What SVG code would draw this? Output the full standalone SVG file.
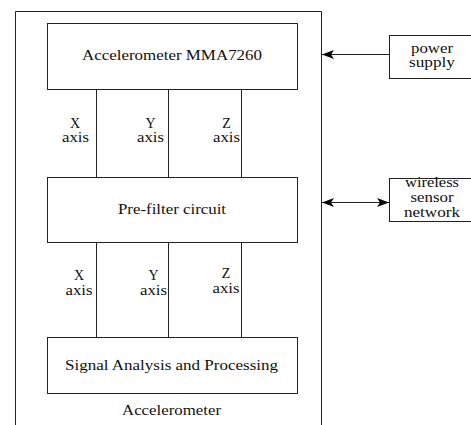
<svg xmlns="http://www.w3.org/2000/svg" width="471" height="425" viewBox="0 0 471 425">
<style>
.b{fill:#fff;stroke:#222;stroke-width:1}
.l{stroke:#222;stroke-width:1;fill:none}
.t{font-family:'Liberation Serif','DejaVu Serif',serif;font-size:14px;fill:#111;text-anchor:middle}
</style>
<defs>
<marker id="ah" markerWidth="12" markerHeight="9" refX="12" refY="4.5" orient="auto-start-reverse" markerUnits="userSpaceOnUse">
<path d="M0,0 L12,4.5 L0,9 L3,4.5 z" fill="#000"/>
</marker>
</defs>
<rect width="471" height="425" fill="#fff"/>
<g id="outer">
<path class="l" d="M15.5,425 V11.5 H321.5 V425" stroke="#000"/>
<text class="t" x="171.5" y="415" textLength="99" lengthAdjust="spacingAndGlyphs">Accelerometer</text>
</g>
<g id="connectors">
<line class="l" x1="96.5" y1="89" x2="96.5" y2="177"/>
<line class="l" x1="168.5" y1="89" x2="168.5" y2="177"/>
<line class="l" x1="241.5" y1="89" x2="241.5" y2="177"/>
<line class="l" x1="96.5" y1="242" x2="96.5" y2="337"/>
<line class="l" x1="168.5" y1="242" x2="168.5" y2="337"/>
<line class="l" x1="241.5" y1="242" x2="241.5" y2="337"/>
<line class="l" x1="389" y1="54.5" x2="322" y2="54.5" marker-end="url(#ah)"/>
<line class="l" x1="322" y1="202.5" x2="389" y2="202.5" marker-start="url(#ah)" marker-end="url(#ah)"/>
<text class="t" x="75" y="128">X</text><text class="t" x="75.5" y="142" textLength="27" lengthAdjust="spacingAndGlyphs">axis</text>
<text class="t" x="150.5" y="128">Y</text><text class="t" x="150.5" y="142" textLength="27" lengthAdjust="spacingAndGlyphs">axis</text>
<text class="t" x="226.5" y="128">Z</text><text class="t" x="226.5" y="142" textLength="27" lengthAdjust="spacingAndGlyphs">axis</text>
<text class="t" x="79" y="280">X</text><text class="t" x="79" y="295" textLength="27" lengthAdjust="spacingAndGlyphs">axis</text>
<text class="t" x="153.5" y="280">Y</text><text class="t" x="153.5" y="295" textLength="27" lengthAdjust="spacingAndGlyphs">axis</text>
<text class="t" x="226" y="278">Z</text><text class="t" x="226" y="293" textLength="27" lengthAdjust="spacingAndGlyphs">axis</text>
</g>
<g id="mma7260">
<rect class="b" x="47.5" y="23.5" width="250" height="66"/>
<text class="t" x="172" y="60" textLength="180" lengthAdjust="spacingAndGlyphs">Accelerometer MMA7260</text>
</g>
<g id="prefilter">
<rect class="b" x="47.5" y="177.5" width="250" height="65"/>
<text class="t" x="172" y="214" textLength="108" lengthAdjust="spacingAndGlyphs">Pre-filter circuit</text>
</g>
<g id="signal">
<rect class="b" x="47.5" y="337.5" width="250" height="56"/>
<text class="t" x="171.5" y="370" textLength="213" lengthAdjust="spacingAndGlyphs">Signal Analysis and Processing</text>
</g>
<g id="power">
<rect class="b" x="389.5" y="35.5" width="85" height="43"/>
<text class="t" x="432" y="53" textLength="42" lengthAdjust="spacingAndGlyphs">power</text>
<text class="t" x="432" y="67" textLength="46" lengthAdjust="spacingAndGlyphs">supply</text>
</g>
<g id="wsn">
<rect class="b" x="389.5" y="178.5" width="85" height="43"/>
<text class="t" x="432" y="187" textLength="54" lengthAdjust="spacingAndGlyphs">wireless</text>
<text class="t" x="432" y="202" textLength="43" lengthAdjust="spacingAndGlyphs">sensor</text>
<text class="t" x="432" y="217" textLength="56" lengthAdjust="spacingAndGlyphs">network</text>
</g>
</svg>
